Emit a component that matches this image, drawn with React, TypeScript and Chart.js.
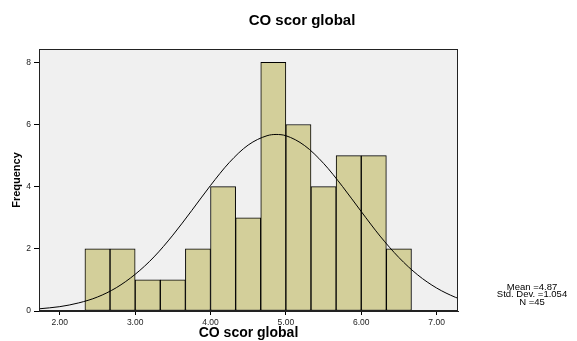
import React, { useEffect, useRef } from "react";
import { Chart, registerables } from "chart.js";

Chart.register(...registerables);

// Histogram bins (bin width 1/3)
const binCenters = [2.5, 2.8333, 3.1667, 3.5, 3.8333, 4.1667, 4.5, 4.8333, 5.1667, 5.5, 5.8333, 6.1667, 6.5];
const binCounts = [2, 2, 1, 1, 2, 4, 3, 8, 6, 4, 5, 5, 2];

// Normal curve overlay
const curveX = [1.724, 2.0, 2.25, 2.5, 2.75, 3.0, 3.25, 3.5, 3.75, 4.0, 4.25, 4.5, 4.75, 4.87, 5.0, 5.25, 5.5, 5.75, 6.0, 6.25, 6.5, 6.75, 7.0, 7.25, 7.284];
const curveY = [0.07, 0.14, 0.26, 0.45, 0.75, 1.18, 1.74, 2.44, 3.23, 4.04, 4.78, 5.34, 5.64, 5.68, 5.64, 5.32, 4.75, 4.01, 3.2, 2.41, 1.72, 1.16, 0.74, 0.44, 0.41];

const xTicks = [2, 3, 4, 5, 6, 7];
const yTicks = [0, 2, 4, 6, 8];

const chartTitle = "CO scor global";
const xTitle = "CO scor global";
const yTitle = "Frequency";
const statsLines = ["Mean =4.87", "Std. Dev. =1.054", "N =45"];

const FONT = "'Liberation Sans', Arial, Helvetica, sans-serif";

export default function App() {
  const ref = useRef<HTMLCanvasElement | null>(null);

  useEffect(() => {
    if (!ref.current) return;
    const decor = {
      id: "decor",
      beforeDraw(chart: any) {
        const { ctx, chartArea: a } = chart;
        ctx.save();
        ctx.fillStyle = "#ffffff";
        ctx.fillRect(0, 0, chart.width, chart.height);
        ctx.fillStyle = "#f0f0f0";
        ctx.fillRect(a.left, a.top, a.right - a.left, a.bottom - a.top);
        ctx.restore();
      },
      afterDraw(chart: any) {
        const { ctx, chartArea: a } = chart;
        ctx.save();
        ctx.strokeStyle = "#222";
        ctx.lineWidth = 1;
        ctx.strokeRect(Math.round(a.left) + 0.5, Math.round(a.top) + 0.5, Math.round(a.right - a.left) - 1, Math.round(a.bottom - a.top) - 1);
        ctx.fillStyle = "#000";
        ctx.textAlign = "center";
        ctx.textBaseline = "middle";
        ctx.font = `bold 15px ${FONT}`;
        ctx.fillText(chartTitle, 302, 21);
        ctx.font = `9.5px ${FONT}`;
        statsLines.forEach((s, i) => ctx.fillText(s, 532, 287 + i * 7.5));
        ctx.restore();
      },
    };

    const chart = new Chart(ref.current, {
      type: "bar",
      data: {
        datasets: [
          {
            type: "line",
            data: curveX.map((x, i) => ({ x, y: curveY[i] })),
            borderColor: "#000",
            borderWidth: 1,
            pointRadius: 0,
            cubicInterpolationMode: "monotone",
            fill: false,
            order: 0,
          } as any,
          {
            type: "bar",
            data: binCenters.map((x, i) => ({ x, y: binCounts[i] })),
            backgroundColor: "#d3cf9a",
            borderColor: "#000",
            borderWidth: 1,
            borderSkipped: false,
            barPercentage: 1,
            categoryPercentage: 1,
            order: 1,
          } as any,
        ],
      },
      options: {
        animation: false,
        responsive: true,
        maintainAspectRatio: false,
        layout: { padding: { top: 49, right: 119, left: 0, bottom: 0 } },
        plugins: { legend: { display: false }, tooltip: { enabled: false }, title: { display: false } },
        scales: {
          x: {
            type: "linear",
            offset: false,
            min: 1.724,
            max: 7.284,
            afterBuildTicks: (s: any) => {
              s.ticks = xTicks.map((v) => ({ value: v }));
            },
            afterFit: (s: any) => {
              s.height = 30;
            },
            ticks: {
              font: { family: FONT, size: 8.5 },
              color: "#222",
              padding: 3,
              maxRotation: 0,
              autoSkip: false,
              callback: (v: any) => Number(v).toFixed(2),
            },
            grid: { offset: false, drawOnChartArea: false, drawTicks: true, tickLength: 4, color: "#000" },
            border: { display: true, color: "#222" },
            title: { display: true, text: xTitle, font: { family: FONT, size: 14, weight: "bold" }, color: "#000", padding: { top: 0, bottom: -1 } },
          },
          y: {
            type: "linear",
            min: 0,
            max: 8.43,
            afterBuildTicks: (s: any) => {
              s.ticks = yTicks.map((v) => ({ value: v }));
            },
            afterFit: (s: any) => {
              s.width = 39;
            },
            ticks: { font: { family: FONT, size: 8.5 }, color: "#222", padding: 3 },
            grid: { drawOnChartArea: false, drawTicks: true, tickLength: 5, color: "#000" },
            border: { display: true, color: "#222" },
            title: { display: true, text: yTitle, font: { family: FONT, size: 11, weight: "bold" }, color: "#000", padding: { top: 10, bottom: 0 } },
          },
        },
      },
      plugins: [decor],
    } as any);
    return () => chart.destroy();
  }, []);

  return (
    <div style={{ position: "absolute", left: 0, top: 0, width: 577, height: 341 }}>
      <canvas ref={ref} />
    </div>
  );
}
